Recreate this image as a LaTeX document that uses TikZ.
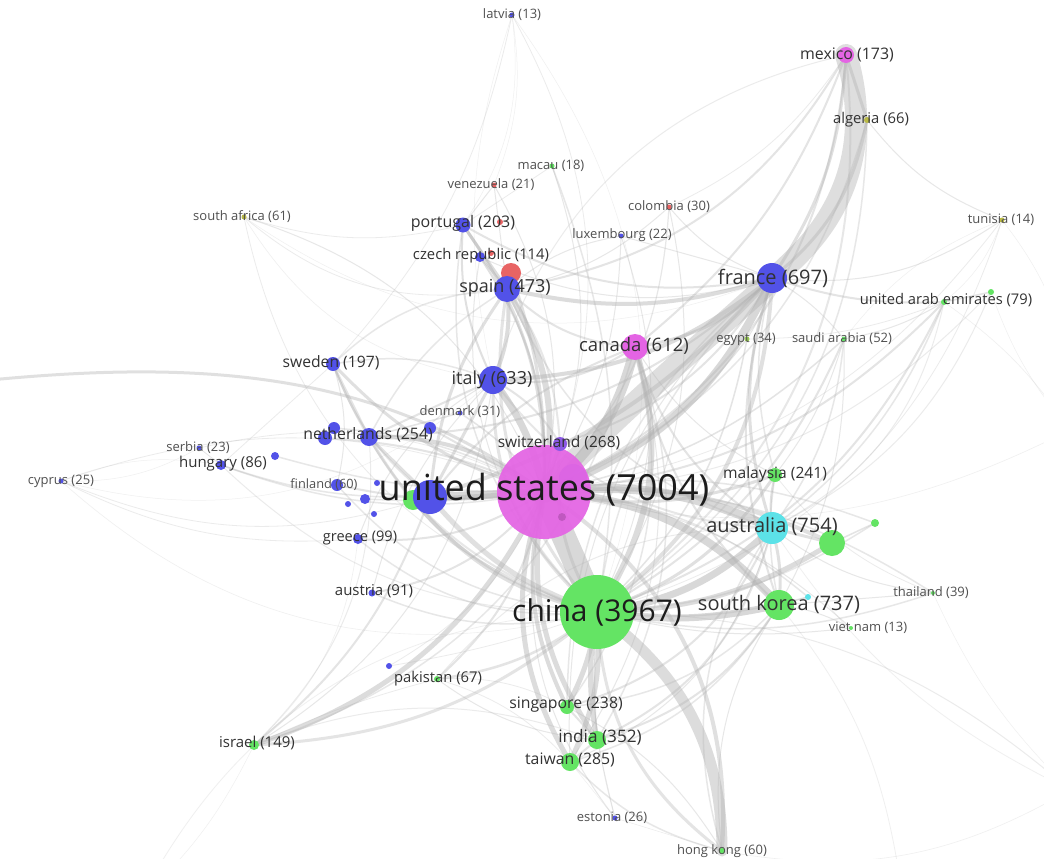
\documentclass[tikz,border=0pt]{standalone}
\usepackage{fontspec}
\setmainfont{Open Sans}
\pgfdeclarelayer{edges}
\pgfsetlayers{edges,main}
\definecolor{cmag}{RGB}{228,100,228}
\definecolor{cblue}{RGB}{82,82,232}
\definecolor{cgreen}{RGB}{100,228,100}
\definecolor{ccyan}{RGB}{92,226,232}
\definecolor{cred}{RGB}{232,100,100}
\definecolor{colive}{RGB}{186,186,70}
\definecolor{edgec}{RGB}{178,178,178}
\definecolor{labbig}{RGB}{28,28,28}
\definecolor{labmid}{RGB}{50,50,50}
\definecolor{labsmall}{RGB}{80,80,80}
\newcommand\lfs[1]{\fontsize{#1}{#1}\selectfont}
\tikzset{
  nd/.style={circle, inner sep=0pt, draw=none},
  lab/.style={inner sep=0pt, anchor=center, text=labmid},
  labs/.style={inner sep=0pt, anchor=center, text=labsmall, font=\lfs{13}},
  edge/.style={draw=edgec, line cap=round},
}
\begin{document}
\begin{tikzpicture}[x=1pt,y=-1pt]
\useasboundingbox (0,0) rectangle (1044,859);
\clip (0,0) rectangle (1044,859);
% ---------- nodes (circles) ----------
\node[nd, fill=cblue, opacity=.7, minimum size=28pt] (usin) at (573,478) {};
\node[nd, fill=cmag, opacity=.93, minimum size=94pt] (us) at (544,492) {};
\node[nd, fill=cmag!70!black, opacity=.5, minimum size=8pt] (dotp) at (562,517) {};
\node[nd, fill=cgreen, minimum size=74pt] (china) at (597,612) {};
\node[nd, fill=cgreen, minimum size=20pt] (gbr) at (413,500) {};
\node[nd, fill=cblue, minimum size=34pt] (deu) at (430,497) {};
\node[nd, fill=ccyan, minimum size=32pt] (aus) at (772,528) {};
\node[nd, fill=cgreen, minimum size=26pt] (grn1) at (832,543) {};
\node[nd, fill=cgreen, minimum size=8pt] (grn2) at (875,523) {};
\node[nd, fill=cgreen, minimum size=30pt] (skor) at (779,605) {};
\node[nd, fill=ccyan, minimum size=6pt] (cyn1) at (808,597) {};
\node[nd, fill=cblue, minimum size=30pt] (fra) at (772,278) {};
\node[nd, fill=cmag, minimum size=26pt] (can) at (635,347) {};
\node[nd, fill=cblue, minimum size=28pt] (ita) at (493,380) {};
\node[nd, fill=cred, minimum size=20pt] (redsp) at (511,273) {};
\node[nd, fill=cblue, minimum size=26pt] (spa) at (507,289) {};
\node[nd, fill=cblue, minimum size=15pt] (por) at (463,225) {};
\node[nd, fill=cred, minimum size=6pt] (redp) at (500,222) {};
\node[nd, fill=cblue, minimum size=10pt] (cze) at (480,257) {};
\node[nd, fill=cred, minimum size=6pt] (redc) at (491,253) {};
\node[nd, fill=cblue, minimum size=14pt] (swe) at (333,364) {};
\node[nd, fill=cblue, minimum size=18pt] (ned) at (369,437) {};
\node[nd, fill=cblue, minimum size=14pt] (bl2) at (325,438) {};
\node[nd, fill=cblue, minimum size=12pt] (bl3) at (334,428) {};
\node[nd, fill=cblue, minimum size=12pt] (bl1) at (430,428) {};
\node[nd, fill=cblue, minimum size=5pt] (den) at (460,413) {};
\node[nd, fill=cblue!60!cmag, minimum size=14pt] (sui) at (560,444) {};
\node[nd, fill=cblue, minimum size=5pt] (srb) at (199,448) {};
\node[nd, fill=cblue, minimum size=10pt] (hun) at (221,465) {};
\node[nd, fill=cblue, minimum size=8pt] (bl4) at (275,456) {};
\node[nd, fill=cblue, minimum size=5pt] (cyp) at (61,481) {};
\node[nd, fill=cblue, minimum size=12pt] (fin) at (337,485) {};
\node[nd, fill=cblue, minimum size=6pt] (bl5) at (377,483) {};
\node[nd, fill=cblue, minimum size=10pt] (bl6) at (365,499) {};
\node[nd, fill=cblue, minimum size=6pt] (bl7) at (348,504) {};
\node[nd, fill=cblue, minimum size=6pt] (bl8) at (374,514) {};
\node[nd, fill=cblue, minimum size=10pt] (gre) at (358,539) {};
\node[nd, fill=cblue, minimum size=7pt] (aut) at (372,593) {};
\node[nd, fill=cblue, minimum size=6pt] (bl9) at (389,666) {};
\node[nd, fill=cgreen, minimum size=6pt] (pak) at (437,679) {};
\node[nd, fill=cgreen, minimum size=10pt] (isr) at (254,745) {};
\node[nd, fill=cgreen, minimum size=14pt] (sgp) at (567,707) {};
\node[nd, fill=cgreen, minimum size=18pt] (ind) at (597,740) {};
\node[nd, fill=cgreen, minimum size=18pt] (twn) at (570,762) {};
\node[nd, fill=cblue, minimum size=5pt] (est) at (615,818) {};
\node[nd, fill=cgreen, minimum size=6pt] (hkg) at (722,851) {};
\node[nd, fill=cgreen, minimum size=14pt] (mys) at (775,475) {};
\node[nd, fill=cgreen, minimum size=4pt] (tha) at (933,593) {};
\node[nd, fill=cgreen, minimum size=4pt] (vnm) at (851,628) {};
\node[nd, fill=colive!60!cgreen, minimum size=5pt] (egy) at (747,339) {};
\node[nd, fill=cgreen, minimum size=5pt] (sau) at (844,339) {};
\node[nd, fill=cgreen, minimum size=6pt] (uae) at (944,302) {};
\node[nd, fill=cgreen, minimum size=6pt] (uae2) at (991,292) {};
\node[nd, fill=colive, minimum size=5pt] (tun) at (1002,220) {};
\node[nd, fill=cmag, minimum size=16pt] (mex) at (846,55) {};
\node[nd, fill=colive, minimum size=6pt] (alg) at (867,120) {};
\node[nd, fill=cblue, minimum size=5pt] (lva) at (512,15) {};
\node[nd, fill=cgreen, minimum size=5pt] (mac) at (552,166) {};
\node[nd, fill=cred, minimum size=5pt] (ven) at (494,185) {};
\node[nd, fill=cred, minimum size=5pt] (col) at (669,207) {};
\node[nd, fill=cblue, minimum size=5pt] (lux) at (621,236) {};
\node[nd, fill=colive, minimum size=5pt] (zaf) at (244,217) {};
\coordinate (lft) at (-10,380);
\coordinate (offr) at (1070,790);
\coordinate (offr2) at (1070,430);
\coordinate (offb) at (900,880);
\coordinate (offl) at (140,900);
% ---------- labels ----------
\node[lab, text=labbig, font=\lfs{36}] (us-l) at (544,490) {united states (7004)};
\node[lab, text=labbig, font=\lfs{30}] (china-l) at (597,612) {china (3967)};
\node[lab, font=\lfs{20}] (aus-l) at (772,526) {australia (754)};
\node[lab, font=\lfs{20}] (skor-l) at (779,604) {south korea (737)};
\node[lab, font=\lfs{20}] (fra-l) at (773,278) {france (697)};
\node[lab, font=\lfs{18.5}] (can-l) at (634,346) {canada (612)};
\node[lab, font=\lfs{18}] (ita-l) at (492,380) {italy (633)};
\node[lab, font=\lfs{18}] (spa-l) at (505,288) {spain (473)};
\node[lab, font=\lfs{16}] (por-l) at (463,223) {portugal (203)};
\node[lab, font=\lfs{14.8}] (cze-l) at (481,256) {czech republic (114)};
\node[lab, font=\lfs{15.7}] (swe-l) at (331,363) {sweden (197)};
\node[lab, font=\lfs{15.8}] (ned-l) at (368,435) {netherlands (254)};
\node[labs] (den-l) at (460,412) {denmark (31)};
\node[lab, font=\lfs{15.5}] (sui-l) at (559,443) {switzerland (268)};
\node[labs] (srb-l) at (198,448) {serbia (23)};
\node[lab, font=\lfs{15}] (hun-l) at (223,464) {hungary (86)};
\node[labs] (cyp-l) at (61,481) {cyprus (25)};
\node[labs, font=\lfs{12.8}] (fin-l) at (324,485) {finland (60)};
\node[lab, font=\lfs{14.6}] (gre-l) at (360,538) {greece (99)};
\node[lab, font=\lfs{15}] (aut-l) at (374,591) {austria (91)};
\node[lab, font=\lfs{14.8}] (pak-l) at (438,679) {pakistan (67)};
\node[lab, font=\lfs{15}] (isr-l) at (257,743) {israel (149)};
\node[lab, font=\lfs{15.8}] (sgp-l) at (566,705) {singapore (238)};
\node[lab, font=\lfs{17.2}] (ind-l) at (600,737) {india (352)};
\node[lab, font=\lfs{15.8}] (twn-l) at (570,760) {taiwan (285)};
\node[labs] (est-l) at (612,818) {estonia (26)};
\node[labs] (hkg-l) at (722,851) {hong kong (60)};
\node[lab, font=\lfs{15.6}] (mys-l) at (775,474) {malaysia (241)};
\node[labs] (tha-l) at (931,593) {thailand (39)};
\node[labs] (vnm-l) at (868,628) {viet nam (13)};
\node[labs] (egy-l) at (746,339) {egypt (34)};
\node[labs] (sau-l) at (842,339) {saudi arabia (52)};
\node[lab, font=\lfs{14.7}] (uae-l) at (946,300) {united arab emirates (79)};
\node[labs] (tun-l) at (1001,220) {tunisia (14)};
\node[lab, font=\lfs{15.9}] (mex-l) at (847,55) {mexico (173)};
\node[lab, font=\lfs{14.8}] (alg-l) at (871,120) {algeria (66)};
\node[labs] (lva-l) at (512,15) {latvia (13)};
\node[labs] (mac-l) at (551,166) {macau (18)};
\node[labs] (ven-l) at (491,185) {venezuela (21)};
\node[labs] (col-l) at (669,207) {colombia (30)};
\node[labs] (lux-l) at (622,235) {luxembourg (22)};
\node[labs] (zaf-l) at (242,217) {south africa (61)};
% ---------- edges ----------
\begin{pgfonlayer}{edges}
\fill[white] (0,0) rectangle (1044,859);
\draw[edge, line width=22pt, draw opacity=.42] (mex.center) .. controls (866,120) and (858,190) .. (805,248) .. controls (760,296) and (640,390) .. (us.center);
\draw[edge, line width=11pt, draw opacity=.45] (hkg.center) .. controls (722,760) and (692,680) .. (china.center);
\draw[edge, line width=3pt, draw opacity=.4] (lft) .. controls (200,360) and (380,370) .. (us.center);
\foreach \a/\b/\w/\o/\bd in {
 us/china/24/.5/0, us/can/10/.5/-18, us/fra/8/.5/-22, us/aus/9/.5/15, us/skor/8/.5/22,
 us/ita/7/.5/-12, us/spa/6/.45/-20, us/deu/8/.5/0, us/ned/4/.45/-18, us/sui/4/.45/0,
 us/ind/5/.45/-22, us/twn/5/.45/-25, us/sgp/4/.45/-20, us/isr/5/.45/22, us/hkg/4/.4/30,
 us/mys/3/.4/-15, us/swe/3/.4/15, us/por/3/.4/-18, us/cze/2/.4/-18, us/gbr/4/.45/0,
 us/redsp/3/.4/-10, us/pak/2/.35/18, us/egy/1.5/.35/-15, us/sau/1.5/.35/-15, us/uae/2/.35/-20,
 us/tha/1.5/.3/18, us/den/1.5/.35/-10, us/fin/2/.35/10, us/gre/2/.35/18, us/aut/2/.35/20,
 us/hun/1.5/.3/15, us/alg/1.5/.3/-25, us/col/1.2/.3/-20, us/ven/1/.3/-20, us/lux/1/.3/-15,
 us/zaf/1/.3/-25, us/lva/0.8/.25/-25, us/cyp/0.8/.25/-20, us/srb/0.8/.25/-20, us/est/1/.3/-25,
 us/mac/1/.3/-20, us/vnm/1/.3/18, us/grn1/4/.4/15, us/bl9/0.8/.25/18, us/tun/0.8/.25/-22,
 us/bl1/2/.35/0, us/bl2/2/.35/-10, us/bl3/1.5/.3/-12, us/bl4/1.5/.3/8, us/bl6/1.5/.3/5,
 us/grn2/1.5/.3/15, us/cyn1/1.5/.3/18, us/uae2/1/.25/-22, us/mex/2/.35/-30, us/offr2/0.6/.2/-20,
 china/aus/7/.5/-18, china/skor/7/.5/-10, china/sgp/5/.45/10, china/ind/5/.45/-10, china/twn/5/.45/15,
 china/can/6/.45/-25, china/fra/4/.4/-25, china/mys/3/.4/-18, china/ita/3/.35/25, china/spa/3/.35/25,
 china/deu/5/.4/15, china/pak/2.5/.35/15, china/sau/2/.35/-18, china/egy/1.5/.35/-18, china/uae/2/.35/-22,
 china/grn1/5/.45/-15, china/isr/3/.35/18, china/mac/1.5/.3/-15, china/tha/1.5/.3/-15, china/vnm/1/.3/-10,
 china/est/1/.3/-10, china/alg/1.5/.3/-28, china/hkg/3/.35/-25, china/offr/1/.25/20, china/offl/0.8/.2/-30,
 china/sui/3/.35/18, china/ned/3/.35/22, china/swe/2/.3/25, china/por/1.5/.3/28, china/cze/1/.3/28,
 china/mex/2/.3/-30, china/lux/1/.3/-22, china/col/1/.3/-22, china/gre/1.5/.3/22, china/aut/1.5/.3/18,
 china/fin/1.5/.3/22, china/hun/1/.25/22, china/lva/0.5/.2/-28, china/zaf/0.8/.25/30, china/cyp/0.6/.2/28,
 china/tun/0.8/.25/-28, china/grn2/1.5/.3/-15, china/cyn1/1.5/.3/-10, china/gbr/4/.4/18, china/bl9/0.8/.25/5,
 spa/ita/4/.45/15, spa/fra/4/.45/-15, ita/fra/4/.45/-18, spa/por/3/.45/0, ita/por/2/.4/15,
 spa/cze/2/.4/0, spa/redsp/2/.4/0, fra/can/3/.4/18, fra/alg/3/.4/-20, fra/tun/1/.3/-20,
 fra/uae/2/.35/-10, fra/egy/1/.3/10, fra/sau/1/.3/10, fra/aus/3/.4/-18, fra/skor/2/.35/-18,
 fra/mex/3/.4/-15, can/aus/2/.35/-20, can/skor/2/.35/-18, aus/skor/3/.4/10, aus/mys/2/.4/10,
 aus/grn1/3/.4/0, skor/vnm/1/.3/10, skor/cyn1/1/.3/0, aus/tha/1/.3/-15, grn1/grn2/1.5/.35/0,
 mys/sau/1/.3/-10, uae/uae2/1.5/.35/0, alg/tun/1/.3/-15, alg/mex/3/.4/0, ned/deu/3/.4/0,
 swe/ned/2/.35/0, ned/den/1.5/.35/0, swe/deu/2/.35/-15, swe/lva/0.8/.25/-15, fin/swe/1/.3/-15,
 gre/cyp/0.8/.25/15, hun/srb/0.8/.3/0, hun/deu/1.5/.3/-10, srb/cyp/0.5/.2/15, isr/ind/1/.25/20,
 isr/pak/0.8/.25/5, isr/deu/2/.35/-15, pak/ind/1/.3/-15, sgp/ind/2/.35/0, twn/ind/2/.35/0,
 hkg/est/0.5/.25/0, hkg/twn/1.5/.3/15, por/ven/1/.3/0, por/mac/0.8/.25/0, por/zaf/0.8/.25/15,
 spa/col/1/.3/-15, spa/mex/2/.35/-25, lux/fra/1/.3/0, col/mex/0.8/.25/-15, mex/can/2/.35/15,
 zaf/spa/0.8/.25/-25, lva/ita/0.5/.2/-15, tun/uae/0.5/.2/15, tha/skor/1/.3/0, skor/offb/0.8/.2/15,
 aus/offr/0.8/.2/-15, ita/deu/3/.4/0, spa/deu/3/.4/-15, fra/deu/4/.4/15, can/deu/2/.35/-15,
 ita/ned/2/.35/0, swe/hun/0.8/.25/0, cyp/deu/0.8/.25/-20, gre/ita/1/.3/20, aut/ita/1/.3/15,
 can/ita/2/.35/20, can/spa/2/.35/20, can/sgp/1.5/.3/25, can/ind/1.5/.3/25, can/mys/1/.3/-15,
 can/twn/1/.3/25, fra/ind/1.5/.3/-25, fra/sgp/1.5/.3/-25, fra/twn/1/.3/-25, fra/mys/1.5/.3/-15,
 fra/sui/2/.35/20, fra/ned/2/.35/20, fra/por/2/.35/20, fra/cze/1/.3/20, fra/col/1/.3/15,
 ita/sui/2/.35/15, ita/swe/1.5/.3/-15, ita/aus/2/.3/-25, spa/ned/1.5/.3/-15, spa/swe/1.5/.3/-20,
 spa/sui/2/.3/15, spa/aus/1.5/.3/-25, spa/ven/1/.3/0, spa/lux/1/.3/15, aus/ind/2/.35/25,
 aus/sgp/2/.35/25, aus/twn/1/.3/25, aus/sau/1.5/.3/-15, aus/uae/1.5/.3/-15, skor/ind/2/.35/20,
 skor/twn/1.5/.3/20, skor/sgp/1.5/.3/20, skor/mys/1.5/.3/10, skor/sau/1/.3/-15, mex/ita/1/.25/-30,
 lva/ven/0.5/.2/15, lva/por/0.5/.2/20, zaf/ita/0.6/.2/-25, zaf/fra/0.5/.2/-28, cyp/hun/0.5/.2/15,
 cyp/ita/0.5/.2/-28, tun/sau/0.5/.2/-15, uae/sau/1/.3/10, uae/egy/0.8/.25/10, uae/aus/1/.25/25,
 uae2/aus/1/.25/20, tha/mys/0.8/.25/15, tha/offr/0.5/.2/-10, hkg/aus/1.5/.3/25, hkg/skor/1/.3/20,
 hkg/sgp/1/.3/-15, hkg/offr/0.6/.2/-20, est/ind/0.5/.2/0, est/twn/0.5/.2/0, isr/ita/1/.3/-25,
 isr/ned/1/.25/-25, isr/can/1.5/.3/-28, isr/gre/0.6/.2/-20, pak/sgp/0.8/.25/15, pak/twn/0.8/.25/15,
 pak/aus/1/.25/25, uae/offr2/0.6/.2/10, tun/offr2/0.5/.2/20, uae2/offr2/0.5/.2/-10, isr/offl/0.5/.2/10}
 \draw[edge, line width=\w pt, draw opacity=\o] (\a.center) to[bend left=\bd] (\b.center);
\end{pgfonlayer}
\end{tikzpicture}
\end{document}
